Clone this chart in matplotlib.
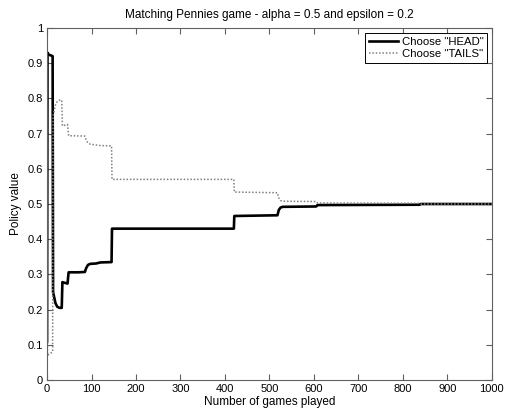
import matplotlib
matplotlib.use("Agg")
import matplotlib.pyplot as plt

plt.rcParams["font.family"] = ["Liberation Sans", "DejaVu Sans"]
plt.rcParams["font.size"] = 8

# Policy of the learning player, sampled at the corners of the curves
head_games = [0, 1, 3, 12.5, 13.5, 16, 19, 23, 28, 33, 34.5, 40, 46, 48.5,
              70, 85, 88, 92, 97, 110, 120, 145, 146, 300, 420, 421, 518,
              521, 525, 530, 605, 608, 838, 840, 1000]
head_policy = [0.11, 0.93, 0.925, 0.92, 0.25, 0.235, 0.218, 0.208, 0.205,
               0.205, 0.278, 0.276, 0.274, 0.306, 0.306, 0.307, 0.318,
               0.327, 0.330, 0.331, 0.334, 0.335, 0.430, 0.430, 0.430,
               0.466, 0.468, 0.483, 0.490, 0.492, 0.493, 0.497, 0.498,
               0.500, 0.500]

tails_games = [0, 1, 12.5, 13.5, 16, 19, 23, 28, 33, 34.5, 40, 46, 48.5,
               85, 88, 92, 97, 120, 145, 146, 420, 421, 518, 521, 525, 530,
               605, 608, 838, 840, 1000]
tails_policy = [0.89, 0.07, 0.08, 0.75, 0.765, 0.782, 0.792, 0.795, 0.795,
                0.722, 0.724, 0.726, 0.694, 0.693, 0.682, 0.673, 0.670,
                0.666, 0.665, 0.570, 0.570, 0.534, 0.532, 0.517, 0.510,
                0.508, 0.507, 0.503, 0.502, 0.500, 0.500]

fig = plt.figure(figsize=(5.06, 4.15), dpi=100)
ax = fig.add_axes([0.093, 0.0843, 0.879, 0.8482])

ax.plot(head_games, head_policy, "-", color="black", linewidth=1.9,
        label='Choose "HEAD"')
ax.plot(tails_games, tails_policy, linestyle=(0, (1, 1.2)), color="#808080",
        linewidth=1.1, label='Choose "TAILS"')

ax.set_xlim(0, 1000)
ax.set_ylim(0, 1)
ax.set_xticks(range(0, 1001, 100))
ax.set_yticks([i / 10 for i in range(11)])
ax.set_yticklabels(["0", "0.1", "0.2", "0.3", "0.4", "0.5", "0.6", "0.7",
                    "0.8", "0.9", "1"])

# matlab-like frame: inward ticks on all four sides
ax.tick_params(direction="in", top=True, right=True, length=4,
               color="#606060", labelsize=8, pad=3)
for side in ax.spines.values():
    side.set_color("#606060")
    side.set_linewidth(0.8)

ax.set_title("Matching Pennies game - alpha = 0.5 and epsilon = 0.2",
             fontsize=8.5, pad=7)
ax.set_xlabel("Number of games played", fontsize=8.5, labelpad=1)
ax.set_ylabel("Policy value", fontsize=8.5, labelpad=4)

leg = ax.legend(loc="upper right", fontsize=8.2, fancybox=False,
                framealpha=1, borderaxespad=0.4, handlelength=2.6,
                borderpad=0.35, labelspacing=0.2, handletextpad=0.3)
leg.get_frame().set_edgecolor("black")
leg.get_frame().set_linewidth(0.7)

fig.savefig("out.png", dpi=100)
